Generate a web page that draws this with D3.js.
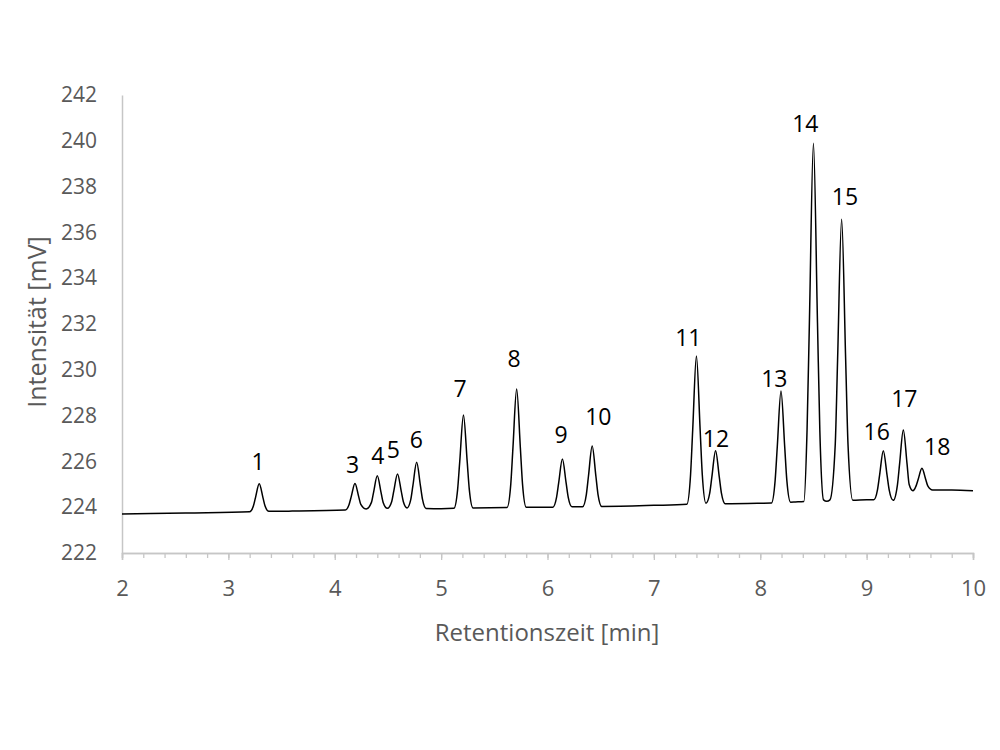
<!DOCTYPE html>
<html>
<head>
<meta charset="utf-8">
<script src="https://cdn.jsdelivr.net/npm/d3@7"></script>
<style>
  body { margin: 0; background: #fff; }
  text { font-family: "Open Sans", "Noto Sans", sans-serif; }
</style>
</head>
<body>
<svg id="chart" width="1000" height="750"></svg>
<script>
// chromatogram trace: [time (min), intensity (mV)]
const trace = [
  [2.0, 223.70], [2.6, 223.75],
  [3.20, 223.80], [3.235, 224.05], [3.255, 224.42], [3.29, 225.02], [3.325, 224.42], [3.345, 224.05], [3.38, 223.82],
  [3.6, 223.83],
  [4.10, 223.88], [4.135, 224.12], [4.155, 224.46], [4.19, 225.03], [4.225, 224.46], [4.245, 224.12],
  [4.295, 223.92],
  [4.345, 224.21], [4.365, 224.65], [4.40, 225.37], [4.435, 224.65], [4.455, 224.21],
  [4.495, 223.95],
  [4.535, 224.24], [4.555, 224.70], [4.59, 225.45], [4.625, 224.70], [4.645, 224.24],
  [4.68, 223.97],
  [4.715, 224.34], [4.735, 224.95], [4.77, 225.96], [4.805, 224.95], [4.825, 224.34], [4.86, 223.94],
  [5.0, 223.93],
  [5.12, 223.95], [5.155, 224.77], [5.175, 225.99], [5.21, 228.03], [5.245, 225.99], [5.265, 224.77], [5.30, 223.97],
  [5.62, 223.99], [5.655, 225.02], [5.675, 226.58], [5.71, 229.16], [5.745, 226.58], [5.765, 225.02], [5.80, 224.00],
  [6.05, 224.00], [6.085, 224.43], [6.105, 225.06], [6.14, 226.10], [6.175, 225.06], [6.195, 224.43], [6.23, 224.02],
  [6.33, 224.02], [6.365, 224.55], [6.385, 225.35], [6.42, 226.67], [6.455, 225.35], [6.475, 224.55], [6.51, 224.03],
  [7.0, 224.08],
  [7.31, 224.13], [7.345, 225.43], [7.365, 227.37], [7.40, 230.60], [7.435, 227.37], [7.455, 225.43],
  [7.49, 224.17],
  [7.525, 224.61], [7.545, 225.31], [7.58, 226.47], [7.615, 225.31], [7.635, 224.61], [7.67, 224.15],
  [8.0, 224.17],
  [8.105, 224.18], [8.14, 225.17], [8.16, 226.63], [8.195, 229.07], [8.23, 226.63], [8.25, 225.17], [8.285, 224.22],
  [8.33, 224.23],
  [8.41, 224.25], [8.44, 227.37], [8.462, 232.07], [8.50, 239.89], [8.538, 232.07], [8.56, 227.37],
  [8.595, 224.32], [8.625, 224.26], [8.655, 224.32],
  [8.705, 226.74], [8.727, 230.43], [8.765, 236.57], [8.803, 230.43], [8.825, 226.74], [8.87, 224.30],
  [9.0, 224.33],
  [9.067, 224.33], [9.102, 224.76], [9.122, 225.40], [9.157, 226.47], [9.192, 225.40], [9.212, 224.76],
  [9.25, 224.30],
  [9.29, 224.99], [9.31, 225.89], [9.345, 227.37], [9.38, 225.89], [9.40, 224.99],
  [9.435, 224.72],
  [9.465, 224.93], [9.485, 225.22], [9.52, 225.70], [9.555, 225.22], [9.575, 224.93], [9.62, 224.75],
  [9.8, 224.75], [10.0, 224.72]
];

// peak numbers and where their labels sit (time, intensity at text baseline)
const peakLabels = ["1", "3", "4", "5", "6", "7", "8", "9", "10", "11", "12", "13", "14", "15", "16", "17", "18"];
const labelTimes = [3.279, 4.168, 4.404, 4.550, 4.767, 5.179, 5.685, 6.127, 6.478, 7.324, 7.584, 8.132, 8.424, 8.797, 9.095, 9.354, 9.664];
const labelValues = [225.62, 225.51, 225.87, 226.14, 226.57, 228.83, 230.12, 226.79, 227.59, 231.04, 226.64, 229.26, 240.37, 237.20, 226.93, 228.36, 226.28];

const xTicks = [2, 3, 4, 5, 6, 7, 8, 9, 10];
const xMinorTicks = d3.range(2, 10.001, 0.2);
const yTicks = [222, 224, 226, 228, 230, 232, 234, 236, 238, 240, 242];

const svg = d3.select("#chart"),
    margin = { top: 95, left: 122 },
    width = 851,
    height = 458,
    g = svg.append("g").attr("transform", `translate(${margin.left},${margin.top})`);

const x = d3.scaleLinear().domain([2, 10]).range([0, width]);
const y = d3.scaleLinear().domain([222, 242]).range([height, 0]);

const axisColor = "#c6c6c6", labelColor = "#595959";

// x axis with minor ticks
const xMinor = g.append("g").attr("transform", `translate(0,${height})`)
    .call(d3.axisBottom(x).tickValues(xMinorTicks).tickSize(5).tickFormat(""));
const xAxis = g.append("g").attr("transform", `translate(0,${height})`)
    .call(d3.axisBottom(x).tickValues(xTicks).tickSize(7).tickPadding(20).tickFormat(d3.format("d")));
[xMinor, xAxis].forEach(a => {
    a.select(".domain").attr("stroke", axisColor).attr("stroke-width", 1.5);
    a.selectAll(".tick line").attr("stroke", axisColor).attr("stroke-width", 1.3);
});
xAxis.selectAll("text").attr("fill", labelColor).style("font-size", "22px");

// y axis, no tick marks
const yAxis = g.append("g")
    .call(d3.axisLeft(y).tickValues(yTicks).tickSize(0).tickPadding(25).tickSizeOuter(0));
yAxis.select(".domain").attr("stroke", axisColor).attr("stroke-width", 1.5);
yAxis.selectAll("text").attr("fill", labelColor).style("font-size", "21px");

// axis titles
svg.append("text")
    .attr("x", 547)
    .attr("y", 641)
    .attr("text-anchor", "middle")
    .attr("fill", labelColor)
    .style("font-size", "24px")
    .text("Retentionszeit [min]");

svg.append("text")
    .attr("transform", "rotate(-90)")
    .attr("x", -322)
    .attr("y", 46)
    .attr("text-anchor", "middle")
    .attr("fill", labelColor)
    .style("font-size", "25px")
    .text("Intensität [mV]");

// the trace
const line = d3.line()
    .x(d => x(d[0]))
    .y(d => y(d[1]))
    .curve(d3.curveMonotoneX);

g.append("path")
    .datum(trace)
    .attr("fill", "none")
    .attr("stroke", "#000")
    .attr("stroke-width", 1.5)
    .attr("d", line);

// peak numbers
g.selectAll(".peak-label")
    .data(peakLabels)
    .join("text")
    .attr("class", "peak-label")
    .attr("x", (d, i) => x(labelTimes[i]))
    .attr("y", (d, i) => y(labelValues[i]))
    .attr("text-anchor", "middle")
    .attr("fill", "#000")
    .style("font-size", "23px")
    .text(d => d);
</script>
</body>
</html>
